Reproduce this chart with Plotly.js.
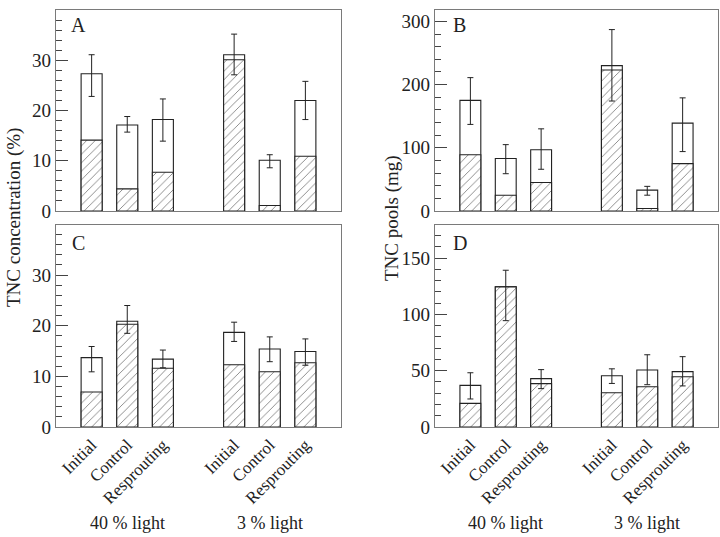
<!DOCTYPE html>
<html>
<head>
<meta charset="utf-8">
<script src="https://cdn.plot.ly/plotly-3.0.1.min.js"></script>
<style>
  body { margin: 0; background: #fff; }
  #chartDiv { width: 720px; height: 537px; }
</style>
</head>
<body>
<div id="chartDiv"></div>
<script>
// bar positions (gap between the two light levels) and labels
var xPos = [0, 1, 2, 4, 5, 6];
var treatments = ['Initial', 'Control', 'Resprouting', 'Initial', 'Control', 'Resprouting'];
var lightLabels = ['40 % light', '3 % light'];
var lightPos = [1, 5];

// A - TNC concentration (%), roots
var aTotal = [27.3, 17.1, 18.2, 31.1, 10.1, 22.0];
var aHatch = [14.1, 4.4, 7.7, 30.1, 1.1, 10.9];
var aErrUp = [3.8, 1.7, 4.1, 4.1, 1.1, 3.8];
var aErrDn = [4.5, 1.4, 4.3, 4.0, 1.5, 3.8];

// B - TNC pools (mg), roots
var bTotal = [175, 83, 97, 230, 33, 139];
var bHatch = [89, 25, 45, 223, 4, 75];
var bErrUp = [36, 22, 33, 57, 6, 40];
var bErrDn = [38, 24, 31, 56, 8, 45];

// C - TNC concentration (%), shoots
var cTotal = [13.7, 20.9, 13.4, 18.7, 15.4, 14.9];
var cHatch = [6.9, 20.3, 11.6, 12.3, 10.9, 12.7];
var cErrUp = [2.2, 3.1, 1.8, 2.0, 2.4, 2.5];
var cErrDn = [2.8, 2.4, 1.7, 1.8, 2.5, 2.7];

// D - TNC pools (mg), shoots
var dTotal = [37, 124.5, 43, 45.5, 50.6, 49.2];
var dHatch = [21, 124.5, 38.5, 30.5, 35.8, 44.7];
var dErrUp = [11.2, 14.8, 8.0, 6.2, 13.6, 13.3];
var dErrDn = [12.1, 30.0, 8.9, 6.8, 13.0, 12.7];

var serif = "'Liberation Serif', 'DejaVu Serif', serif";

function panel(total, hatch, up, dn, xa, ya) {
    var tot = {
        x: xPos, y: total, type: 'bar', width: 0.59,
        xaxis: xa, yaxis: ya, hoverinfo: 'skip',
        marker: {color: '#fff', line: {color: '#222', width: 1.1}}
    };
    var hat = {
        x: xPos, y: hatch, type: 'bar', width: 0.59,
        xaxis: xa, yaxis: ya, hoverinfo: 'skip',
        marker: {color: '#fff',
            pattern: {shape: '/', fgcolor: '#444', bgcolor: '#fff', size: 6, solidity: 0.1},
            line: {color: '#222', width: 1.1}}
    };
    var err = {
        x: xPos, y: total, type: 'scatter', mode: 'markers',
        xaxis: xa, yaxis: ya, hoverinfo: 'skip',
        marker: {size: 1, opacity: 0},
        error_y: {type: 'data', symmetric: false, array: up, arrayminus: dn,
            color: '#222', thickness: 1, width: 3}
    };
    return [tot, hat, err];
}

var data = [].concat(
    panel(aTotal, aHatch, aErrUp, aErrDn, 'x', 'y'),
    panel(bTotal, bHatch, bErrUp, bErrDn, 'x2', 'y2'),
    panel(cTotal, cHatch, cErrUp, cErrDn, 'x3', 'y3'),
    panel(dTotal, dHatch, dErrUp, dErrDn, 'x4', 'y4')
);

var frame = '#7a7a7a';
function xax(dom, anchor, labels) {
    return {
        domain: dom, anchor: anchor, range: [-1, 7],
        showline: true, mirror: true, linecolor: frame, linewidth: 1.3,
        showgrid: false, zeroline: false, ticks: '',
        tickmode: 'array', tickvals: xPos, ticktext: treatments,
        showticklabels: labels, tickangle: -45,
        tickfont: {family: serif, size: 17, color: '#222'}
    };
}
function yax(dom, anchor, rng, dtick, minor) {
    return {
        domain: dom, anchor: anchor, range: rng, dtick: dtick, tick0: 0,
        showline: true, mirror: true, linecolor: frame, linewidth: 1.3,
        showgrid: false, zeroline: false,
        ticks: 'inside', ticklen: 12, tickcolor: '#444', tickwidth: 1,
        minor: {dtick: minor, ticks: 'inside', ticklen: 6, tickcolor: '#444', tickwidth: 1},
        tickfont: {family: serif, size: 19, color: '#222'}
    };
}

var leftX = [56 / 720, 341 / 720];
var rightX = [435 / 720, 718 / 720];
var topY = [1 - 211 / 537, 1 - 10 / 537];
var botY = [1 - 427 / 537, 1 - 225 / 537];

var annotations = [];
var letters = [['A', 78 / 720, 1 - 25 / 537], ['B', 460 / 720, 1 - 25 / 537],
               ['C', 78 / 720, 1 - 243 / 537], ['D', 460 / 720, 1 - 243 / 537]];
letters.forEach(function (l) {
    annotations.push({text: l[0], x: l[1], y: l[2], xref: 'paper', yref: 'paper',
        xanchor: 'center', yanchor: 'middle', showarrow: false,
        font: {family: serif, size: 20, color: '#222'}});
});
['x3', 'x4'].forEach(function (xr) {
    for (var i = 0; i < lightLabels.length; i++) {
        annotations.push({text: lightLabels[i], x: lightPos[i], xref: xr,
            y: 1 - 523 / 537, yref: 'paper', xanchor: 'center', yanchor: 'middle',
            showarrow: false, font: {family: serif, size: 18, color: '#222'}});
    }
});
annotations.push({text: 'TNC concentration (%)', x: 14 / 720, y: 1 - 218 / 537,
    xref: 'paper', yref: 'paper', xanchor: 'center', yanchor: 'middle',
    textangle: -90, showarrow: false,
    font: {family: serif, size: 19, color: '#222'}});
annotations.push({text: 'TNC pools (mg)', x: 392 / 720, y: 1 - 218 / 537,
    xref: 'paper', yref: 'paper', xanchor: 'center', yanchor: 'middle',
    textangle: -90, showarrow: false,
    font: {family: serif, size: 19, color: '#222'}});

var layout = {
    width: 720, height: 537,
    margin: {l: 0, r: 0, t: 0, b: 0},
    paper_bgcolor: '#fff', plot_bgcolor: '#fff',
    showlegend: false, barmode: 'overlay',
    xaxis: xax(leftX, 'y', false),
    yaxis: yax(topY, 'x', [0, 40], 10, 2),
    xaxis2: xax(rightX, 'y2', false),
    yaxis2: yax(topY, 'x2', [0, 318], 100, 20),
    xaxis3: xax(leftX, 'y3', true),
    yaxis3: yax(botY, 'x3', [0, 39.9], 10, 2),
    xaxis4: xax(rightX, 'y4', true),
    yaxis4: yax(botY, 'x4', [0, 179.5], 50, 10),
    annotations: annotations
};

Plotly.newPlot('chartDiv', data, layout, {displayModeBar: false, staticPlot: true});
</script>
</body>
</html>
